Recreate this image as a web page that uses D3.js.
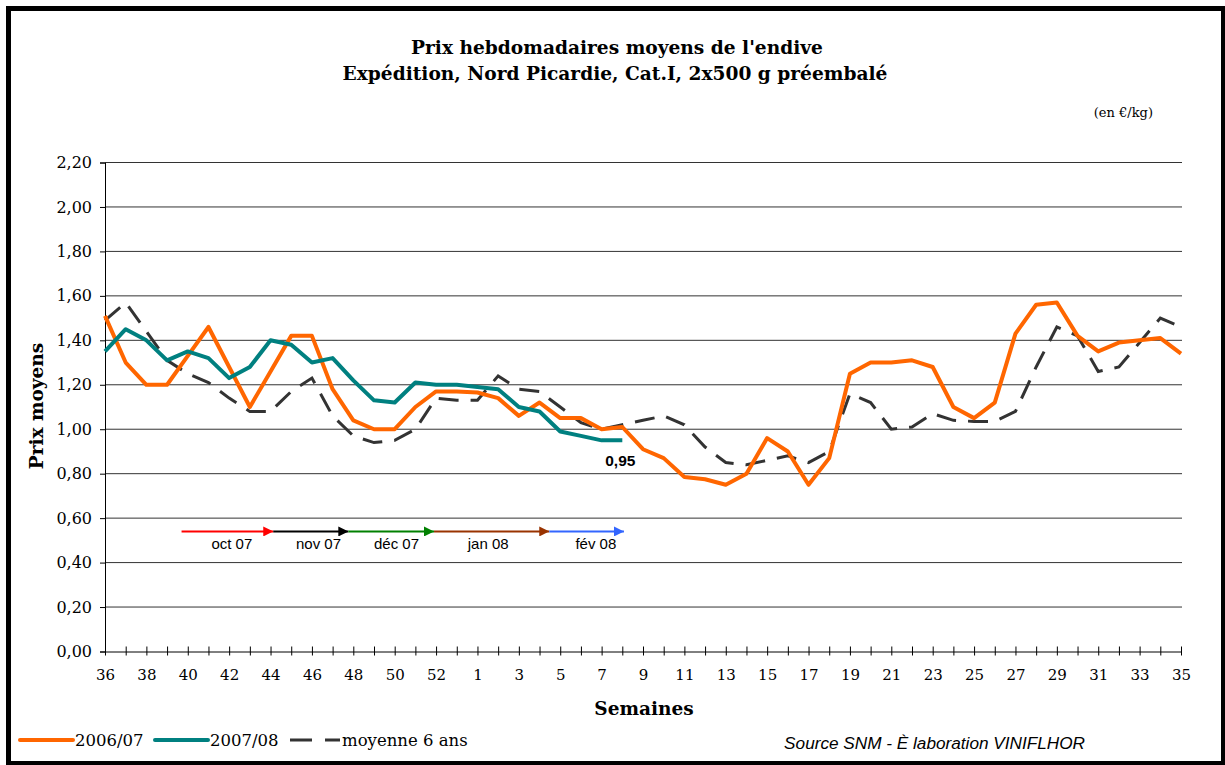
<!DOCTYPE html>
<html>
<head>
<meta charset="utf-8">
<script src="https://d3js.org/d3.v7.min.js"></script>
<style>
  body { margin: 0; background: #fff; }
  svg { display: block; }
</style>
</head>
<body>
<svg id="chart" width="1225" height="765"></svg>
<script>
// weeks of the campaign: 36..53 then 1..35
var weeks = ['36','37','38','39','40','41','42','43','44','45','46','47','48','49','50','51','52','53',
  '1','2','3','4','5','6','7','8','9','10','11','12','13','14','15','16','17','18','19','20',
  '21','22','23','24','25','26','27','28','29','30','31','32','33','34','35'];

var prix0607 = [1.51,1.30,1.20,1.20,1.33,1.46,1.28,1.10,1.26,1.42,1.42,1.18,1.04,1.00,1.00,1.10,1.17,1.17,
  1.165,1.14,1.06,1.12,1.05,1.05,1.00,1.01,0.91,0.87,0.785,0.775,0.75,0.80,0.96,0.90,0.75,0.87,1.25,1.30,
  1.30,1.31,1.28,1.10,1.05,1.12,1.43,1.56,1.57,1.42,1.35,1.39,1.40,1.41,1.34];

var prix0708 = [1.35,1.45,1.40,1.31,1.35,1.32,1.23,1.28,1.40,1.38,1.30,1.32,1.22,1.13,1.12,1.21,1.20,1.20,
  1.19,1.18,1.10,1.08,0.99,0.97,0.95,0.95];

var moyenne6 = [1.49,1.57,1.44,1.31,1.25,1.21,1.14,1.08,1.08,1.17,1.23,1.06,0.97,0.94,0.95,1.00,1.14,1.13,
  1.13,1.24,1.18,1.17,1.10,1.03,1.00,1.02,1.04,1.06,1.02,0.92,0.85,0.84,0.86,0.88,0.85,0.90,1.16,1.12,
  1.00,1.01,1.07,1.04,1.035,1.035,1.08,1.28,1.46,1.42,1.26,1.28,1.39,1.50,1.46];

var yTicks = [0, 0.2, 0.4, 0.6, 0.8, 1.0, 1.2, 1.4, 1.6, 1.8, 2.0, 2.2];

// month arrows: start / end / label centre as fractional week index, level in euro
var mois = ['oct 07', 'nov 07', 'déc 07', 'jan 08', 'fév 08'];
var moisDebut = [3.7, 8.13, 11.76, 15.9, 21.47];
var moisFin = [8.13, 11.76, 15.9, 21.47, 25.08];
var moisLabel = [6.13, 10.32, 14.09, 18.52, 23.72];
var moisCouleur = ['#ff0000', '#000000', '#008000', '#993300', '#3366ff'];
var moisNiveau = 0.54;

var svg = d3.select('#chart');
var serif = '"DejaVu Serif", "Liberation Serif", serif';
var sans = '"Liberation Sans", Arial, sans-serif';

// outer frame
svg.append('rect')
  .attr('x', 8.5).attr('y', 8.5)
  .attr('width', 1215).attr('height', 755)
  .attr('fill', 'none').attr('stroke', '#000').attr('stroke-width', 5);

var x = d3.scalePoint().domain(weeks).range([105, 1181]);
var xi = d3.scaleLinear().domain([0, weeks.length - 1]).range([105, 1181]);
var y = d3.scaleLinear().domain([0, 2.2]).range([651.5, 162.5]);

// titles
var title = svg.append('text')
  .attr('text-anchor', 'middle')
  .attr('font-family', serif).attr('font-weight', 'bold').attr('font-size', 18.6);
title.append('tspan').attr('x', 617).attr('y', 54).text("Prix hebdomadaires moyens de l'endive");
title.append('tspan').attr('x', 615).attr('y', 80).text('Expédition, Nord Picardie, Cat.I, 2x500 g préembalé');

svg.append('text')
  .attr('x', 1153).attr('y', 117)
  .attr('text-anchor', 'end')
  .attr('font-family', serif).attr('font-size', 13)
  .text('(en €/kg)');

// grid
svg.append('g').selectAll('line')
  .data(yTicks.filter(function(d) { return d > 0; }))
  .join('line')
  .attr('x1', 105).attr('x2', 1182)
  .attr('y1', function(d) { return y(d); })
  .attr('y2', function(d) { return y(d); })
  .attr('stroke', '#333').attr('stroke-width', 1);

// y axis
var yAxis = svg.append('g')
  .attr('transform', 'translate(105,0)')
  .call(d3.axisLeft(y).tickValues(yTicks).tickSize(5).tickPadding(8)
    .tickFormat(function(d) { return d3.format('.2f')(d).replace('.', ','); }));
yAxis.select('.domain').attr('stroke', '#000');
yAxis.selectAll('line').attr('stroke', '#000');
yAxis.selectAll('text').attr('font-family', serif).attr('font-size', 16).attr('fill', '#000');

// x axis
var xAxis = svg.append('g')
  .attr('transform', 'translate(0,' + y(0) + ')')
  .call(d3.axisBottom(x).tickSize(4).tickSizeOuter(0).tickPadding(14)
    .tickFormat(function(d, i) { return i % 2 === 0 ? d : ''; }));
xAxis.select('.domain').attr('stroke', '#000');
xAxis.selectAll('line').attr('stroke', '#000').attr('y1', -5);
xAxis.selectAll('text').attr('font-family', serif).attr('font-size', 15).attr('fill', '#000');

// axis titles
svg.append('text')
  .attr('transform', 'translate(43,406) rotate(-90)')
  .attr('text-anchor', 'middle')
  .attr('font-family', serif).attr('font-weight', 'bold').attr('font-size', 18.5)
  .text('Prix moyens');

svg.append('text')
  .attr('x', 644).attr('y', 715)
  .attr('text-anchor', 'middle')
  .attr('font-family', serif).attr('font-weight', 'bold').attr('font-size', 18.5)
  .text('Semaines');

// month arrows
svg.append('defs').selectAll('marker')
  .data(moisCouleur)
  .join('marker')
  .attr('id', function(d, i) { return 'fl' + i; })
  .attr('viewBox', '0 0 10 10')
  .attr('refX', 10).attr('refY', 5)
  .attr('markerWidth', 10).attr('markerHeight', 10)
  .attr('markerUnits', 'userSpaceOnUse')
  .attr('orient', 'auto')
  .append('path')
  .attr('d', 'M0,0L10,5L0,10Z')
  .attr('fill', function(d) { return d; });

var fl = svg.append('g');
fl.selectAll('line')
  .data(mois)
  .join('line')
  .attr('x1', function(d, i) { return xi(moisDebut[i]); })
  .attr('x2', function(d, i) { return xi(moisFin[i]); })
  .attr('y1', y(moisNiveau)).attr('y2', y(moisNiveau))
  .attr('stroke', function(d, i) { return moisCouleur[i]; })
  .attr('stroke-width', 2)
  .attr('marker-end', function(d, i) { return 'url(#fl' + i + ')'; });
fl.selectAll('text')
  .data(mois)
  .join('text')
  .attr('x', function(d, i) { return xi(moisLabel[i]); })
  .attr('y', y(moisNiveau) + 18)
  .attr('text-anchor', 'middle')
  .attr('font-family', sans).attr('font-size', 15)
  .text(function(d) { return d; });

// lines
var line = d3.line()
  .x(function(d, i) { return x(weeks[i]); })
  .y(function(d) { return y(d); });

svg.append('path').datum(moyenne6)
  .attr('d', line).attr('fill', 'none')
  .attr('stroke', '#333').attr('stroke-width', 3)
  .attr('stroke-dasharray', '20,12');

svg.append('path').datum(prix0607)
  .attr('d', line).attr('fill', 'none')
  .attr('stroke', '#ff6600').attr('stroke-width', 4)
  .attr('stroke-linejoin', 'round');

svg.append('path').datum(prix0708)
  .attr('d', line).attr('fill', 'none')
  .attr('stroke', '#008080').attr('stroke-width', 4)
  .attr('stroke-linejoin', 'round');

// label of the last 2007/08 value
var last = prix0708.length - 1;
svg.append('text')
  .attr('x', x(weeks[last]) - 2)
  .attr('y', y(prix0708[last]) + 26)
  .attr('text-anchor', 'middle')
  .attr('font-family', sans).attr('font-weight', 'bold').attr('font-size', 15.5)
  .text(d3.format('.2f')(prix0708[last]).replace('.', ','));

// legend
var legende = [
  { nom: '2006/07', couleur: '#ff6600', x: 20, w: 53, dash: null, sw: 4 },
  { nom: '2007/08', couleur: '#008080', x: 155, w: 53, dash: null, sw: 4 },
  { nom: 'moyenne 6 ans', couleur: '#333', x: 290, w: 50, dash: '22,13', sw: 3 }
];
var lg = svg.append('g').selectAll('g').data(legende).join('g');
lg.append('line')
  .attr('x1', function(d) { return d.x; })
  .attr('x2', function(d) { return d.x + d.w; })
  .attr('y1', 740).attr('y2', 740)
  .attr('stroke', function(d) { return d.couleur; })
  .attr('stroke-width', function(d) { return d.sw; })
  .attr('stroke-linecap', function(d) { return d.dash ? 'butt' : 'round'; })
  .attr('stroke-dasharray', function(d) { return d.dash; });
lg.append('text')
  .attr('x', function(d) { return d.x + d.w + 2; })
  .attr('y', 746)
  .attr('font-family', serif).attr('font-size', 16.5)
  .text(function(d) { return d.nom; });

svg.append('text')
  .attr('x', 1085).attr('y', 749)
  .attr('text-anchor', 'end')
  .attr('font-family', sans).attr('font-style', 'italic').attr('font-size', 17.2)
  .text('Source SNM - È laboration VINIFLHOR');
</script>
</body>
</html>
